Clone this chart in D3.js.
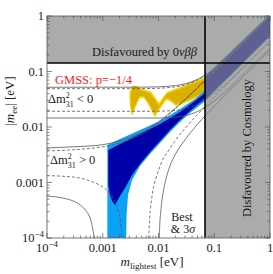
<!DOCTYPE html>
<meta charset="utf-8">
<style>
body { margin: 0; background: #fff; }
text { font-family: "Liberation Serif", "DejaVu Serif", serif; fill: #1a1a1a; }
</style>
<svg width="273" height="274"></svg>
<script src="https://cdnjs.cloudflare.com/ajax/libs/d3/7.8.5/d3.min.js"></script>
<script>
// values, all as [m_lightest, |m_ee|] in eV
var tickValues = [1e-4, 1e-3, 1e-2, 1e-1, 1];
var tickLabels = [["10", "\u22124"], ["0.001"], ["0.01"], ["0.1"], ["1"]];

var bound0vbb = 0.142;    // horizontal black line
var boundCosmo = 0.0683;  // vertical black line

// inverted ordering (Δm²31 < 0): dashed = best fit, solid = 3σ
var ihBestUpper = [[1e-4,0.049],[0.001,0.049],[0.005,0.0492],[0.01,0.0499],[0.02,0.053],[0.03,0.0574],[0.05,0.0703],[0.1,0.1117],[0.2,0.206],[0.5,0.5],[1,1]];
var ihBestLower = [[1e-4,0.0192],[0.005,0.0192],[0.01,0.0193],[0.02,0.0199],[0.03,0.0214],[0.05,0.0256],[0.1,0.040],[0.2,0.0735],[0.5,0.179],[1,0.356]];
var ih3sUpper = [[1e-4,0.052],[0.005,0.0522],[0.01,0.0529],[0.02,0.0558],[0.03,0.060],[0.05,0.0724],[0.1,0.113],[0.2,0.207],[0.5,0.502],[1,1.0]];
var ih3sLower = [[1e-4,0.0145],[0.005,0.0145],[0.01,0.0145],[0.02,0.015],[0.03,0.016],[0.05,0.019],[0.1,0.0294],[0.2,0.054],[0.5,0.136],[1,0.261]];

// normal ordering (Δm²31 > 0)
var nhBestUpper = [[1e-4,0.0037],[3e-4,0.0039],[0.001,0.0044],[0.002,0.0051],[0.003,0.0059],[0.005,0.0075],[0.007,0.0092],[0.01,0.0118],[0.02,0.0213],[0.03,0.031],[0.05,0.0507],[0.1,0.1004],[0.3,0.3],[1,1]];
var nh3sUpper = [[1e-4,0.0042],[3e-4,0.0044],[0.001,0.0048],[0.002,0.0056],[0.003,0.0064],[0.005,0.008],[0.007,0.0097],[0.01,0.0124],[0.02,0.0217],[0.03,0.0313],[0.05,0.051],[0.1,0.1005],[0.3,0.3],[1,1]];
var nhBestLowerA = [[1e-4,0.00133],[3e-4,0.00125],[5e-4,0.00113],[7e-4,0.001],[0.001,0.00083],[0.0013,0.00066],[0.0015,0.00055],[0.0017,0.00043],[0.0019,0.00031],[0.0021,0.00018],[0.0022,0.00011],[0.0023,0.00005],[0.00235,0.00001]];
var nhBestLowerB = [[0.0065,0.00001],[0.0066,0.000055],[0.0068,0.00015],[0.007,0.00025],[0.0075,0.00049],[0.008,0.00076],[0.009,0.0012],[0.01,0.00164],[0.012,0.00263],[0.015,0.0037],[0.02,0.0057],[0.03,0.0095],[0.05,0.0168],[0.1,0.0347],[0.3,0.105],[1,0.35]];
var nh3sLowerA = [[1e-4,0.00057],[2e-4,0.00052],[3e-4,0.00046],[4e-4,0.00039],[5e-4,0.00031],[6e-4,0.00022],[6.5e-4,0.00016],[7e-4,0.0001],[7.5e-4,0.00004],[7.7e-4,0.00001]];
var nh3sLowerB = [[0.0101,0.00001],[0.0102,0.00004],[0.0105,0.00016],[0.011,0.0003],[0.012,0.00063],[0.013,0.00095],[0.015,0.00163],[0.02,0.0032],[0.03,0.0059],[0.05,0.0112],[0.1,0.0236],[0.3,0.0725],[1,0.242]];

// GMSS p = -1/4 regions (outlines)
var yellowOuter = [[0.00302,0.0427],[0.00335,0.0548],[0.00395,0.0559],[0.00466,0.0504],[0.00597,0.0464],[0.00734,0.0436],[0.00865,0.0347],[0.01021,0.0271],[0.01204,0.0347],[0.01421,0.0427],[0.01747,0.0464],[0.0243,0.0526],[0.0367,0.0621],[0.0555,0.0733],[0.0683,0.0796],
  [0.0683,0.041],[0.0511,0.0347],[0.0367,0.0294],[0.02639,0.026],[0.0206,0.0239],[0.01608,0.0294],[0.01363,0.0307],[0.01156,0.0239],[0.00979,0.0186],[0.00865,0.0151],[0.00764,0.0186],[0.00648,0.026],[0.00549,0.0333],[0.00466,0.0333],[0.00411,0.026],[0.00364,0.0194],[0.00335,0.0158],[0.00315,0.0202],[0.00302,0.0307]];
var yellowInner = [[0.00321,0.041],[0.00349,0.0504],[0.00395,0.0515],[0.00466,0.0464],[0.00597,0.0427],[0.00704,0.0401],[0.00865,0.0307],[0.01021,0.0239],[0.01204,0.0307],[0.01421,0.0393],[0.01747,0.0427],[0.0243,0.0484],[0.0367,0.0571],[0.0555,0.0674],[0.0683,0.0733],
  [0.0683,0.0445],[0.0511,0.0377],[0.0367,0.032],[0.02639,0.0282],[0.0206,0.026],[0.01608,0.032],[0.01363,0.0333],[0.01156,0.026],[0.00979,0.0211],[0.00865,0.0171],[0.00764,0.0211],[0.00648,0.0282],[0.00549,0.0362],[0.00466,0.0362],[0.00411,0.0294],[0.00364,0.022],[0.00335,0.0186],[0.00321,0.0239]];
var blueOuter = [[0.00121,0.00474],[0.00204,0.00608],[0.00466,0.00883],[0.01064,0.01282],[0.0243,0.0211],[0.0451,0.032],[0.0683,0.0464],[0.0686,0.083],[1,1.1],
  [1,0.42],[0.0686,0.0294],[0.0367,0.0179],[0.0243,0.0123],[0.01608,0.00813],[0.01064,0.00515],[0.00704,0.00326],[0.00466,0.00198],[0.00335,0.00111],[0.00284,0.000595],[0.00267,0.00026],[0.00261,0.00005],[0.00121,0.00005]];
var blueInner = [[0.00126,0.00385],[0.00204,0.00494],[0.00466,0.00748],[0.01064,0.01133],[0.0243,0.0186],[0.0451,0.0294],[0.0683,0.041],[0.0686,0.079],[1,1.02],
  [1,0.45],[0.0686,0.031],[0.0683,0.0333],[0.0367,0.0194],[0.0243,0.01337],[0.01608,0.00883],[0.01064,0.00559],[0.00704,0.00354],[0.00466,0.00215],[0.00335,0.00137],[0.00251,0.000796],[0.00204,0.000571],[0.00166,0.000393],[0.00147,0.000464],[0.00135,0.000595],[0.00126,0.0009]];

var svg = d3.select("svg"),
    margin = {top: 16, right: 3, bottom: 36, left: 47},
    width = +svg.attr("width") - margin.left - margin.right,
    height = +svg.attr("height") - margin.top - margin.bottom;

var x = d3.scaleLog().domain([1e-4, 1]).range([margin.left, margin.left + width]),
    y = d3.scaleLog().domain([1e-4, 1]).range([margin.top + height, margin.top]);

svg.append("defs").append("clipPath").attr("id", "plot")
  .append("rect").attr("x", x(1e-4)).attr("y", y(1)).attr("width", width).attr("height", height);

var plot = svg.append("g").attr("clip-path", "url(#plot)");

var area = d3.line().x(function(d) { return x(d[0]); }).y(function(d) { return y(d[1]); }).curve(d3.curveLinearClosed);
var curve = d3.line().x(function(d) { return x(d[0]); }).y(function(d) { return y(d[1]); }).curve(d3.curveMonotoneX);

plot.append("path").attr("d", area(yellowOuter)).attr("fill", "#f6d200");
plot.append("path").attr("d", area(yellowInner)).attr("fill", "#d9b000");
plot.append("path").attr("d", area(blueOuter)).attr("fill", "#0aa2f5");
plot.append("path").attr("d", area(blueInner)).attr("fill", "#0000a8");

var lines = [
  [ihBestUpper, true], [ihBestLower, true], [ih3sUpper, false], [ih3sLower, false],
  [nhBestUpper, true], [nh3sUpper, false], [nhBestLowerA, true], [nhBestLowerB, true],
  [nh3sLowerA, false], [nh3sLowerB, false]
];
lines.forEach(function(l) {
  plot.append("path").attr("d", curve(l[0]))
    .attr("fill", "none").attr("stroke", "#555").attr("stroke-width", 0.8)
    .attr("stroke-dasharray", l[1] ? "3,2" : null);
});

// disfavoured regions (one path so the corner is not darker)
var x0 = x(1e-4), x1 = x(1), xc = x(boundCosmo), yt = y(1), yb = y(1e-4), yv = y(bound0vbb);
plot.append("path")
  .attr("d", "M" + x0 + "," + yt + "H" + x1 + "V" + yb + "H" + xc + "V" + yv + "H" + x0 + "Z")
  .attr("fill", "#888").attr("fill-opacity", 0.7);

plot.append("line").attr("x1", x0).attr("x2", x1).attr("y1", yv).attr("y2", yv)
  .attr("stroke", "#000").attr("stroke-width", 1.6);
plot.append("line").attr("x1", xc).attr("x2", xc).attr("y1", yt).attr("y2", yb)
  .attr("stroke", "#000").attr("stroke-width", 1.6);

// frame and inward ticks on all sides
svg.append("rect").attr("x", x0).attr("y", yt).attr("width", width).attr("height", height)
  .attr("fill", "none").attr("stroke", "#555").attr("stroke-width", 0.8);

var allTicks = x.ticks();
function isMajor(v) { return Math.abs(Math.log10(v) - Math.round(Math.log10(v))) < 1e-6; }
var tk = svg.append("g").attr("stroke", "#555").attr("stroke-width", 0.7);
allTicks.forEach(function(v) {
  var len = isMajor(v) ? 5 : 2.5;
  tk.append("line").attr("x1", x(v)).attr("x2", x(v)).attr("y1", yb).attr("y2", yb - len);
  tk.append("line").attr("x1", x(v)).attr("x2", x(v)).attr("y1", yt).attr("y2", yt + len);
  tk.append("line").attr("y1", y(v)).attr("y2", y(v)).attr("x1", x0).attr("x2", x0 + len);
  tk.append("line").attr("y1", y(v)).attr("y2", y(v)).attr("x1", x1).attr("x2", x1 - len);
});

function tickText(t, lab) {
  t.text(lab[0]);
  if (lab[1]) t.append("tspan").attr("font-size", 9).attr("dy", -5).text(lab[1]);
}
tickValues.forEach(function(v, i) {
  tickText(svg.append("text").attr("x", x(v)).attr("y", yb + 14)
    .attr("text-anchor", "middle").attr("font-size", 12.5), tickLabels[i]);
  tickText(svg.append("text").attr("x", x0 - 3).attr("y", y(v) + 4)
    .attr("text-anchor", "end").attr("font-size", 12.5), tickLabels[i]);
});

// axis titles
var xt = svg.append("text").attr("x", 152).attr("y", 266).attr("text-anchor", "middle").attr("font-size", 13);
xt.append("tspan").attr("font-style", "italic").text("m");
xt.append("tspan").attr("font-size", 9).attr("dy", 3).text("lightest");
xt.append("tspan").attr("dy", -3).text(" [eV]");

var yt2 = svg.append("text").attr("transform", "translate(14,101) rotate(-90)")
  .attr("text-anchor", "middle").attr("font-size", 13);
yt2.append("tspan").text("|");
yt2.append("tspan").attr("font-style", "italic").text("m");
yt2.append("tspan").attr("font-size", 9).attr("dy", 3).text("ee");
yt2.append("tspan").attr("dy", -3).text("| [eV]");

// annotations
var t1 = svg.append("text").attr("x", 144.5).attr("y", 56).attr("text-anchor", "middle").attr("font-size", 12.5);
t1.append("tspan").text("Disfavoured by 0");
t1.append("tspan").attr("font-style", "italic").text("\u03bd\u03b2\u03b2");

svg.append("text").attr("transform", "translate(251,148) rotate(-90)")
  .attr("text-anchor", "middle").attr("font-size", 12.5).text("Disfavoured by Cosmology");

svg.append("text").attr("x", 55).attr("y", 84).attr("font-size", 12.5)
  .style("fill", "#ff1a1a").text("GMSS: p=\u22121/4");

// Δm² label with stacked super/subscript, built from one text element
function dmLabel(px, py, sign) {
  var t = svg.append("text").attr("x", px).attr("y", py).attr("font-size", 12.5);
  t.append("tspan").text("\u0394m");
  var w = t.node().getComputedTextLength();
  t.append("tspan").attr("font-size", 8).attr("dy", -5.5).text("2");
  t.append("tspan").attr("font-size", 8).attr("x", px + w).attr("dy", 9).text("31");
  t.append("tspan").attr("dy", -3.5).text(" " + sign + " 0");
}
dmLabel(48, 103, "<");
dmLabel(50, 164, ">");

var t3 = svg.append("text").attr("x", 182).attr("y", 220.5).attr("text-anchor", "middle").attr("font-size", 12);
t3.append("tspan").text("Best");
t3.append("tspan").attr("x", 183).attr("dy", 12.5).text("& 3");
t3.append("tspan").attr("font-style", "italic").text("\u03c3");
</script>
